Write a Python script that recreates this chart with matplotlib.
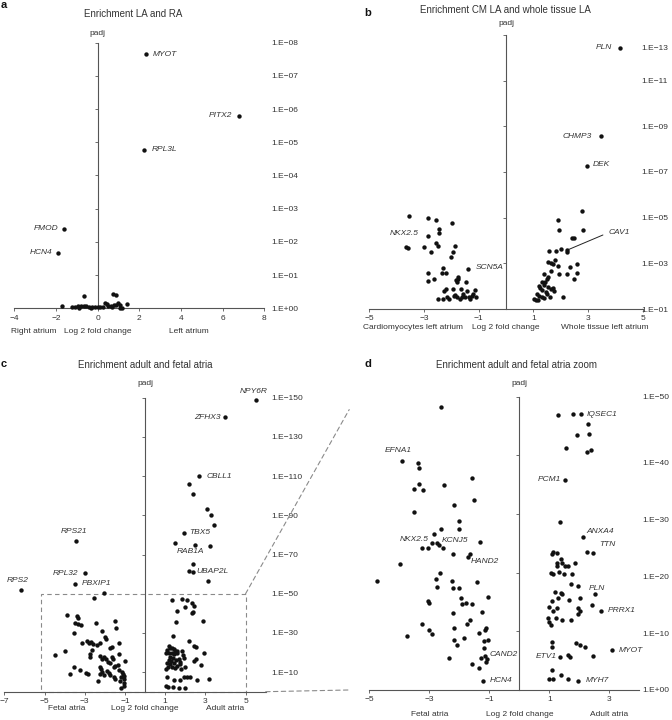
import matplotlib.pyplot as plt
from matplotlib.patches import Rectangle, ConnectionPatch

plt.rcParams['font.family'] = ['Liberation Sans', 'DejaVu Sans']
plt.rcParams['font.size'] = 6

INK = '#111111'
TXT = '#333333'
AXC = '#555555'
DASH = '#8a8a8a'

# ---------------- data (x = log2 fold change, y = -log10 padj) ----------------
# a: enrichment LA and RA
a_x = [-0.67, 0.75, 0.88, 1.39, -1.72, -1.25, -1.09, -0.96, -0.80, -0.67, -0.55,
       -0.43, -0.27, -0.11, 0.02, 0.13, 0.35, 0.51, 0.64, 0.77, 0.86, 0.99, 1.07,
       1.15, -0.90, -0.30, 0.25, 0.45, 0.70, 1.05]
a_y = [0.38, 0.42, 0.39, 0.14, 0.06, 0.05, 0.03, 0.07, 0.08, 0.08, 0.07, 0.04,
       0.05, 0.03, 0.04, 0.03, 0.15, 0.08, 0.08, 0.10, 0.10, 0.15, 0.10, 0.02,
       0.02, 0.02, 0.05, 0.12, 0.03, 0.00]
a_genes = ['MYOT', 'PITX2', 'RPL3L', 'FMOD', 'HCN4']
a_gx = [2.30, 6.77, 2.24, -1.60, -1.89]
a_gy = [7.65, 5.80, 4.78, 2.39, 1.67]

# b: enrichment CM LA and whole tissue LA
b_x = [-3.56, -2.84, -2.56, -1.97, -2.45, -2.45, -3.66, -3.58, -2.99, -2.56, -2.50,
       -2.75, -1.88, -1.94, -2.02, -2.31, -2.84, -2.35, -2.20, -2.84, -2.62, -1.77,
       -1.74, -1.83, -1.78, -1.95, -1.46, -1.41, -2.19, -2.27, -1.66, -1.13, -2.15,
       -2.29, -2.50, -2.07, -1.90, -1.80, -1.62, -1.56, -1.50, -1.34, -1.32, -1.25,
       -1.19, -1.10, -1.70, -1.85,
       2.77, 1.92, 1.95, 2.83, 2.43, 2.48, 1.58, 1.83, 2.01, 2.24, 1.55, 1.65, 1.71,
       1.81, 1.89, 2.34, 2.60, 1.38, 1.64, 1.53, 1.50, 1.94, 2.24, 2.59, 2.50, 1.31,
       1.43, 1.40, 1.21, 1.25, 1.31, 1.55, 1.65, 1.73, 1.77, 1.45, 1.12, 1.21, 1.31,
       1.40, 1.49, 1.61, 1.03, 1.09, 1.18, 2.08]
b_y = [5.08, 5.00, 4.89, 4.75, 4.49, 4.31, 3.70, 3.69, 3.71, 3.88, 3.77, 3.51, 3.77,
       3.48, 3.29, 2.81, 2.59, 2.56, 2.56, 2.24, 2.31, 2.41, 2.31, 2.27, 2.19, 1.86,
       2.19, 1.80, 1.86, 1.80, 1.86, 1.83, 1.54, 1.45, 1.44, 1.42, 1.58, 1.54, 1.54,
       1.64, 1.51, 1.54, 1.44, 1.57, 1.64, 1.54, 1.45, 1.62,
       5.30, 4.89, 4.47, 4.47, 4.12, 4.12, 3.55, 3.54, 3.63, 3.48, 3.04, 3.00, 2.97,
       3.14, 2.90, 2.86, 2.97, 2.53, 2.65, 2.41, 2.31, 2.53, 2.53, 2.56, 2.33, 2.19,
       2.17, 2.05, 2.01, 1.91, 1.83, 1.95, 1.86, 1.91, 1.80, 1.76, 1.64, 1.57, 1.54,
       1.50, 1.64, 1.54, 1.42, 1.39, 1.39, 1.51]
b_genes = ['PLN', 'CHMP3', 'DEK', 'NKX2.5', 'SCN5A', 'CAV1']
b_gx = [4.18, 3.48, 2.95, -2.84, -1.40, 2.24]
b_gy = [12.44, 8.57, 7.27, 4.21, 2.74, 3.58]

# c: enrichment adult and fetal atria
c_x = [2.19, 2.36, 3.07, 3.29, 3.42, 1.49, 3.22, 2.37, 2.19, 3.12, -2.06, -2.56,
       -3.89, -3.36, -3.31, -3.47, -3.31, -3.17, -3.52, -2.44, -1.51, -1.44, -2.14,
       -1.98, -1.94, -3.14, -2.89, -2.81, -2.69, -2.59, -2.39, -2.23, -1.64, -1.73,
       -1.28, -1.32, -4.47, -3.97, -2.64, -2.72, -2.76, -2.23, -2.14, -2.06, -1.93,
       -1.86, -1.76, -1.64, -1.59, -1.56, -1.48, -1.02, -1.37, -3.52, -3.22, -2.92,
       -2.86, -3.72, -2.23, -2.19, -2.14, -2.26, -2.06, -1.89, -1.81, -1.73, -1.56,
       -1.32, -1.15, -1.10, -1.03, -1.20, -1.07, -2.33, -1.48, -1.26, -1.07, -1.03,
       -1.20,
       1.34, 1.84, 2.09, 1.97, 2.34, 2.42, 2.37, 2.31, 1.61, 1.56, 2.89, 1.38, 2.17,
       2.42, 2.51, 1.18, 1.26, 1.35, 1.43, 1.51, 1.59, 1.10, 1.06, 1.18, 1.35, 1.46,
       1.59, 1.84, 1.89, 1.26, 1.39, 1.18, 1.29, 1.10, 1.23, 1.43, 1.56, 1.68, 1.76,
       1.73, 1.92, 2.01, 1.13, 1.06, 1.35, 1.51, 1.81, 1.59, 2.42, 2.51, 2.79, 2.92,
       1.10, 1.43, 1.76, 1.92, 2.09, 2.25, 2.56, 3.17, 1.06, 1.13, 1.39, 1.71, 2.01]
c_y = [106.1, 100.8, 93.3, 90.4, 84.8, 76.1, 74.1, 65.4, 61.6, 56.7, 50.6, 48.0,
       39.2, 38.7, 37.5, 34.9, 34.6, 33.9, 30.1, 34.9, 36.1, 32.4, 31.2, 28.1, 26.8,
       24.7, 26.0, 25.0, 25.5, 24.4, 23.9, 24.7, 23.0, 22.5, 25.0, 19.3, 18.7, 20.9,
       21.3, 19.3, 17.6, 18.2, 16.7, 17.6, 16.5, 15.3, 14.8, 17.6, 16.5, 12.5, 13.1,
       15.8, 13.6, 12.8, 11.1, 9.7, 9.0, 9.0, 12.5, 11.4, 10.2, 9.0, 8.5, 10.7, 9.7,
       8.5, 7.7, 11.1, 10.2, 9.0, 8.2, 7.7, 6.3, 5.5, 6.3, 5.5, 4.3, 2.9, 1.7,
       46.8, 47.2, 46.8, 43.4, 45.1, 43.8, 40.6, 40.0, 41.1, 35.6, 36.3, 28.4, 25.9,
       23.5, 23.0, 23.3, 22.5, 22.1, 21.6, 20.9, 20.9, 21.3, 19.9, 19.6, 19.9, 19.2,
       19.6, 20.9, 18.8, 17.9, 17.1, 16.2, 15.7, 14.8, 14.2, 14.8, 16.2, 16.6, 15.4,
       14.2, 17.1, 12.5, 12.5, 11.4, 12.5, 12.0, 11.4, 13.2, 15.7, 16.6, 13.6, 19.6,
       7.7, 6.0, 6.0, 7.7, 7.3, 7.7, 6.0, 6.6, 2.9, 2.2, 2.2, 1.7, 2.0]
c_genes = ['NPY6R', 'ZFHX3', 'CBLL1', 'TBX5', 'RAB1A', 'UBAP2L',
           'RPS21', 'RPL32', 'PBXIP1', 'RPS2']
c_gx = [5.53, 4.00, 2.69, 1.94, 2.49, 2.39, -3.42, -3.01, -3.47, -6.18]
c_gy = [149.0, 140.0, 110.0, 81.2, 74.9, 61.1, 77.0, 60.5, 55.0, 51.8]

# d: zoom of c (padj > 1E-50)
d_x = [-2.61, -3.38, -3.34, -1.59, -3.36, -3.52, -3.22, -2.50, -1.51, -2.18, -3.52,
       -2.02, -2.00, -2.62, -2.84, -2.73, -3.24, -3.03, -2.53, -1.32, -2.20, -1.64,
       -3.98, -4.75, -2.65, -2.79, -2.75, -2.25, -2.20, -2.00, -1.40, -1.03, -1.95,
       -1.92, -1.76, -1.59, -3.05, -3.02, -2.22, -1.24, -1.63, -3.25, -3.02, -2.92,
       -3.73, -2.17, -1.74, -1.34, -1.14, -1.11, -2.18, -2.06, -1.84, -1.18, -1.03,
       -1.18, -2.34, -1.28, -1.08, -1.11, -1.56, -1.34,
       1.30, 1.80, 2.30, 2.33, 1.91, 1.56, 2.38, 2.27, 1.36, 2.27, 1.11, 1.24, 1.08,
       1.38, 1.43, 1.52, 1.24, 1.27, 1.86, 1.61, 1.05, 1.11, 1.32, 1.49, 1.75, 1.71,
       1.95, 1.19, 1.38, 1.43, 1.30, 2.02, 1.67, 2.41, 1.10, 0.99, 1.24, 1.13, 1.97,
       2.02, 1.95, 0.96, 0.99, 1.05, 1.22, 1.41, 1.72, 1.08, 1.08, 1.89, 2.02, 2.19,
       1.61, 1.69, 2.47, 1.08, 0.99, 1.11, 1.38, 1.63]
d_y = [48.2, 38.7, 37.8, 36.2, 35.1, 34.2, 34.1, 35.0, 32.4, 31.5, 30.3, 28.8, 27.4,
       27.4, 26.6, 25.1, 24.2, 24.2, 24.2, 25.3, 23.1, 23.1, 21.4, 18.6, 20.0, 18.9,
       17.6, 18.6, 17.4, 17.4, 18.4, 15.9, 15.6, 14.6, 14.9, 14.7, 15.1, 14.9, 13.2,
       13.3, 12.0, 11.2, 10.2, 9.6, 9.2, 10.6, 11.2, 9.8, 10.2, 10.5, 8.6, 7.6, 8.8,
       8.4, 8.6, 7.1, 5.5, 5.4, 5.2, 4.7, 4.4, 3.8,
       46.9, 47.0, 45.3, 43.6, 43.5, 41.2, 40.9, 40.5, 28.7, 23.6, 23.6, 23.4, 23.2,
       22.4, 21.7, 21.2, 21.6, 21.2, 21.7, 21.1, 19.9, 19.8, 20.1, 19.8, 19.7, 18.1,
       17.7, 16.7, 16.6, 16.3, 15.7, 15.7, 15.3, 14.5, 15.2, 14.2, 14.0, 13.5, 13.9,
       13.5, 13.0, 12.3, 11.6, 11.1, 12.2, 11.9, 11.9, 8.1, 7.3, 8.0, 7.6, 7.3, 6.0,
       5.7, 5.8, 3.4, 1.9, 1.9, 2.6, 1.9]
d_genes = ['EFNA1', 'NKX2.5', 'KCNJ5', 'HAND2', 'CAND2', 'HCN4', 'IQSEC1', 'PCM1',
           'ANXA4', 'TTN', 'PLN', 'PRRX1', 'MYOT', 'ETV1', 'MYH7']
d_gx = [-3.91, -2.92, -2.68, -1.70, -1.14, -1.22, 2.05, 1.52, 2.11, 2.47, 2.52,
        2.72, 3.08, 1.36, 1.97]
d_gy = [39.0, 25.1, 24.7, 22.6, 5.85, 1.6, 47.0, 35.8, 26.0, 23.4, 16.3, 13.5, 6.8,
        5.7, 1.6]

# tick labels
a_yticks = list(range(0, 9))
a_ylabels = ['1.E+00'] + ['1.E\u22120%d' % k for k in range(1, 9)]
b_yticks = [1, 3, 5, 7, 9, 11, 12.45]
b_ylabels = ['1.E\u221201', '1.E\u221203', '1.E\u221205', '1.E\u221207',
             '1.E\u221209', '1.E\u221211', '1.E\u221213']
c_yticks = [10, 30, 50, 70, 90, 110, 130, 150]
c_ylabels = ['1.E\u2212%d' % k for k in c_yticks]
d_yticks = [0, 10, 20, 30, 40, 51.6]
d_ylabels = ['1.E+00', '1.E\u221210', '1.E\u221220', '1.E\u221230', '1.E\u221240',
             '1.E\u221250']


def mlab(v):
    return '%d' % v if v >= 0 else '\u2212%d' % -v


# ---------------- figure ----------------
W, H = 672, 720
fig = plt.figure(figsize=(W / 100, H / 100), dpi=100)


def px_axes(x0, y0, x1, y1):
    return fig.add_axes([x0 / W, 1 - y1 / H, (x1 - x0) / W, (y1 - y0) / H])


def setup(ax, xlim, ylim, xticks, yticks, ylab_pos, ylab_text, lab_pad):
    ax.set_xlim(xlim)
    ax.set_ylim(ylim)
    ax.patch.set_visible(False)
    ax.spines['top'].set_visible(False)
    ax.spines['right'].set_visible(False)
    ax.spines['left'].set_position(('data', 0))
    for s in ('left', 'bottom'):
        ax.spines[s].set_color(AXC)
        ax.spines[s].set_linewidth(0.8)
    ax.set_xticks(xticks, [mlab(v) for v in xticks])
    ax.set_yticks(yticks)
    ax.tick_params(axis='y', direction='out', length=2.5, width=0.6, color=AXC,
                   labelleft=False)
    ax.tick_params(axis='x', direction='out', length=2, width=0.6, color=AXC,
                   labelsize=6, pad=2.5, labelcolor=TXT)
    tw = ax.twinx()
    tw.set_ylim(ylim)
    tw.set_yticks(ylab_pos, ylab_text)
    tw.tick_params(axis='y', length=0, pad=lab_pad, labelsize=6, labelcolor=TXT)
    for s in tw.spines.values():
        s.set_visible(False)


def bottom_text(ax, items, dy):
    for txt, x in items:
        ax.annotate(txt, xy=(x, 0), xycoords=('data', 'axes fraction'),
                    xytext=(0, -dy), textcoords='offset points',
                    ha='center', va='center', fontsize=6, color=TXT)


def padj(ax, dy):
    ax.annotate('padj', xy=(0, 1), xycoords=('data', 'axes fraction'),
                xytext=(0, dy), textcoords='offset points',
                ha='center', va='center', fontsize=6, color=TXT)


def dots(ax, xs, ys):
    ax.scatter(xs, ys, s=10, c=INK, linewidths=0, clip_on=False, zorder=3)


def genes(ax, names, xs, ys, offs):
    for n, x, y in zip(names, xs, ys):
        dx, dy, ha, va = offs[n]
        ax.annotate(n, xy=(x, y), xytext=(dx, dy), textcoords='offset points',
                    ha=ha, va=va, fontsize=6, style='italic', color=TXT)


# panel a
ax_a = px_axes(14.3, 42.7, 264.3, 308.3)
setup(ax_a, (-4, 8), (0, 8), [-4, -2, 0, 2, 4, 6, 8], a_yticks[1:],
      a_yticks, a_ylabels, 5.3)
dots(ax_a, a_x, a_y)
dots(ax_a, a_gx, a_gy)
genes(ax_a, a_genes, a_gx, a_gy, {
    'MYOT': (5.5, 0, 'left', 'center'), 'PITX2': (-4.5, 0, 'right', 'center'),
    'RPL3L': (5.5, 0, 'left', 'center'), 'FMOD': (-4.5, 0, 'right', 'center'),
    'HCN4': (-4.5, 0, 'right', 'center')})
bottom_text(ax_a, [('Right atrium', -3.09), ('Log 2 fold change', 0),
                   ('Left atrium', 4.4)], 16.8)
padj(ax_a, 6.5)

# panel b
ax_b = px_axes(369.3, 35, 642.7, 309)
setup(ax_b, (-5, 5), (1, 13), [-5, -3, -1, 1, 3, 5], [3, 5, 7, 9, 11, 13],
      b_yticks, b_ylabels, -1.2)
dots(ax_b, b_x, b_y)
dots(ax_b, b_gx, b_gy)
genes(ax_b, b_genes[:5], b_gx[:5], b_gy[:5], {
    'PLN': (-6, 0, 'right', 'center'), 'CHMP3': (-7, 0, 'right', 'center'),
    'DEK': (4.3, 1, 'left', 'center'), 'NKX2.5': (-7, 1.5, 'right', 'center'),
    'SCN5A': (5.5, 1.4, 'left', 'center')})
ax_b.annotate(b_genes[5], xy=(b_gx[5], b_gy[5]), xytext=(3.74, 4.34),
              ha='left', va='center', fontsize=6, style='italic', color=TXT,
              arrowprops=dict(arrowstyle='-', color='#222222', lw=0.7,
                              shrinkA=2, shrinkB=1.5, relpos=(0, 0.5)))
bottom_text(ax_b, [('Cardiomyocytes left atrium', -3.40), ('Log 2 fold change', 0),
                   ('Whole tissue left atrium', 3.62)], 13.5)
padj(ax_b, 8.6)

# panel c
ax_c = px_axes(4.3, 397.7, 265.7, 691.7)
setup(ax_c, (-7, 6), (0, 150), [-7, -5, -3, -1, 1, 3, 5], c_yticks,
      c_yticks, c_ylabels, 4.3)
dots(ax_c, c_x, c_y)
dots(ax_c, c_gx, c_gy)
genes(ax_c, c_genes, c_gx, c_gy, {
    'NPY6R': (-1.7, 3.3, 'center', 'bottom'), 'ZFHX3': (-3.6, 0, 'right', 'center'),
    'CBLL1': (5, 0, 'left', 'center'), 'TBX5': (3.6, 0, 'left', 'center'),
    'RAB1A': (-3, -2.5, 'center', 'top'), 'UBAP2L': (2.4, 0, 'left', 'center'),
    'RPS21': (-2, 4.5, 'center', 'bottom'), 'RPL32': (-4.3, 0, 'right', 'center'),
    'PBXIP1': (4.3, 0, 'left', 'center'), 'RPS2': (-2.4, 4.7, 'center', 'bottom')})
ax_c.add_patch(Rectangle((-5.17, 0), 10.17, 50, fill=False, ec=DASH, lw=0.8,
                         ls=(0, (4, 3)), clip_on=False, zorder=2))
bottom_text(ax_c, [('Fetal atria', -3.9), ('Log 2 fold change', 0),
                   ('Adult atria', 4.0)], 12)
padj(ax_c, 10)

# panel d
ax_d = px_axes(369.3, 396.7, 639.3, 690)
setup(ax_d, (-5, 4), (0, 50), [-5, -3, -1, 1, 3], [10, 20, 30, 40, 50],
      d_yticks, d_ylabels, 2.4)
dots(ax_d, d_x, d_y)
dots(ax_d, d_gx, d_gy)
genes(ax_d, d_genes, d_gx, d_gy, {
    'EFNA1': (-2.4, 5.5, 'center', 'bottom'), 'NKX2.5': (-2.5, 2.6, 'right', 'center'),
    'KCNJ5': (2, 3, 'left', 'center'), 'HAND2': (2, -3, 'left', 'center'),
    'CAND2': (3.5, 1.2, 'left', 'center'), 'HCN4': (4.8, 0, 'left', 'center'),
    'IQSEC1': (4.3, 0, 'left', 'center'), 'PCM1': (-3, 0, 'right', 'center'),
    'ANXA4': (2.6, 4.3, 'left', 'center'), 'TTN': (4.3, 6, 'left', 'center'),
    'PLN': (1.5, 4.3, 'center', 'center'), 'PRRX1': (5, 0, 'left', 'center'),
    'MYOT': (5.3, 0, 'left', 'center'), 'ETV1': (-2.7, 0, 'right', 'center'),
    'MYH7': (5, 0, 'left', 'center')})
bottom_text(ax_d, [('Fetal atria', -3.0), ('Log 2 fold change', 0),
                   ('Adult atria', 3.0)], 18)
padj(ax_d, 9.5)

# dashed guides from the boxed region of c to panel d
for pa, pb in [((5, 50), (-5.67, 47.8)), ((6, 0), (-5.7, 0))]:
    fig.add_artist(ConnectionPatch(xyA=pa, coordsA=ax_c.transData, xyB=pb,
                                   coordsB=ax_d.transData, color=DASH, lw=0.8,
                                   ls=(0, (4, 3))))

# titles and panel letters
for txt, x, y in [('Enrichment LA and RA', 132.7, 14),
                  ('Enrichment CM LA and whole tissue LA', 505.3, 10),
                  ('Enrichment adult and fetal atria', 145, 365),
                  ('Enrichment adult and fetal atria zoom', 516, 365)]:
    fig.text(x / W, 1 - y / H, txt, ha='center', va='center', fontsize=7, color=TXT)
for txt, x, y in [('a', 4, 5), ('b', 368, 13), ('c', 4, 364), ('d', 368, 364)]:
    fig.text(x / W, 1 - y / H, txt, ha='center', va='center', fontsize=8,
             fontweight='bold', color='#111111')

fig.savefig('out.png', dpi=100)
